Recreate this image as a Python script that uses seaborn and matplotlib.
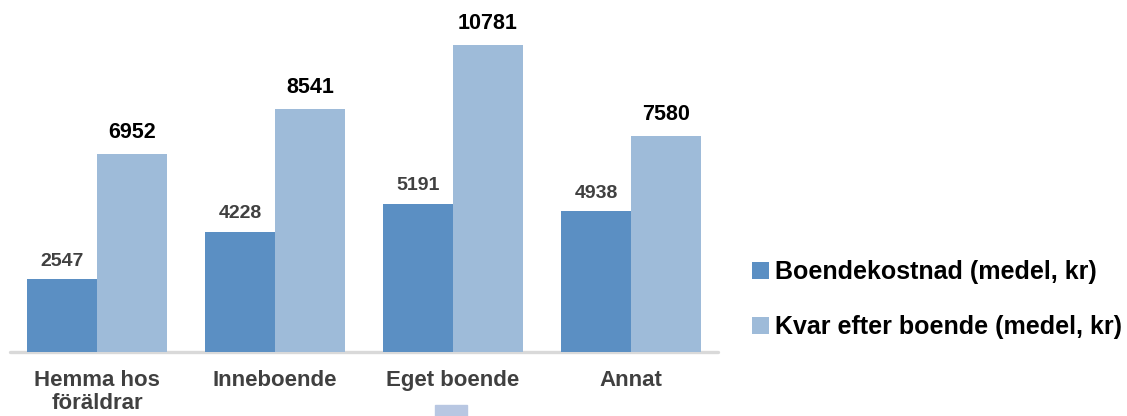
import pandas as pd
import matplotlib.pyplot as plt
import matplotlib.patches as mpatches
import seaborn as sns

# -------------------- DATA --------------------
categories = ['Hemma hos\nföräldrar', 'Inneboende', 'Eget boende', 'Annat']
boendekostnad = [2547, 4228, 5191, 4938]
kvar_efter = [6952, 8541, 10781, 7580]
series_names = ['Boendekostnad (medel, kr)', 'Kvar efter boende (medel, kr)']
colors = ['#5b8fc3', '#9ebbd9']
# ----------------------------------------------

df = pd.DataFrame({
    'Boende': categories * 2,
    'Serie': [series_names[0]] * 4 + [series_names[1]] * 4,
    'Värde': boendekostnad + kvar_efter,
})

sns.set_theme(style='white')
plt.rcParams['font.family'] = ['Liberation Sans', 'DejaVu Sans']
plt.rcParams['font.weight'] = 'bold'

fig = plt.figure(figsize=(11.27, 4.16), dpi=100)
ax = fig.add_axes([8 / 1127, 64 / 416, 712 / 1127, 352 / 416])

sns.barplot(data=df, x='Boende', y='Värde', hue='Serie', palette=colors,
            width=0.787, saturation=1, ax=ax, legend=False, errorbar=None,
            linewidth=0)

ax.set_xlim(-0.5, 3.5)
ax.set_ylim(0, 12360)
ax.axhline(0, color='#d9d9d9', lw=2.4, zorder=0, xmin=0.003, xmax=0.997, clip_on=False)
for s in ax.spines.values():
    s.set_visible(False)
ax.set_yticks([])
ax.set_xlabel('')
ax.set_ylabel('')
ax.tick_params(axis='x', length=0, pad=13)
for lab in ax.get_xticklabels():
    lab.set_fontsize(16)
    lab.set_fontweight('bold')
    lab.set_color('#404040')
    lab.set_linespacing(1.15)

ax.bar_label(ax.containers[0], padding=7, fontsize=14, fontweight='bold', color='#404040')
ax.bar_label(ax.containers[1], padding=8, fontsize=15.5, fontweight='bold', color='black')

handles = [mpatches.Patch(color=c, label=n, linewidth=0) for c, n in zip(colors, series_names)]
fig.legend(handles=handles, loc='center left', bbox_to_anchor=(752 / 1127, 0.279),
           frameon=False, handlelength=0.68, handleheight=0.68,
           handletextpad=0.25, labelspacing=1.24, borderpad=0, borderaxespad=0,
           labelcolor='black', prop={'weight': 'bold', 'size': 18})

# clipped legend swatch at the bottom edge
fig.patches.append(mpatches.Rectangle((435 / 1127, 0), 32 / 1127, 11 / 416,
                                      transform=fig.transFigure, color='#b8c7e2'))

fig.savefig('out.png', dpi=100)
